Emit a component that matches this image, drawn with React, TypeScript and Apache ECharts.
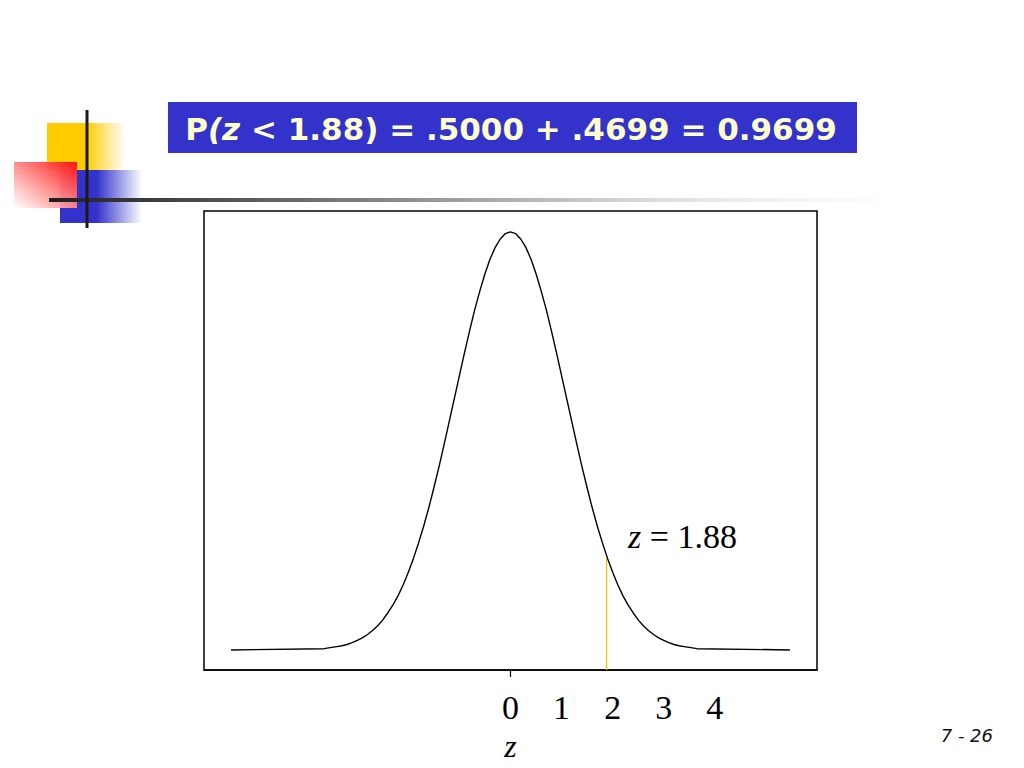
import React, { useEffect, useRef } from "react";
import * as echarts from "echarts";

// Normal curve (z, relative height)
const curveZ = [
  -5.47, -3.65, -3.5, -3.4, -3.3, -3.2, -3.1, -3.0, -2.9, -2.8, -2.7, -2.6, -2.5, -2.4, -2.3, -2.2, -2.1, -2.0,
  -1.9, -1.8, -1.7, -1.6, -1.5, -1.4, -1.3, -1.2, -1.1, -1.0, -0.9, -0.8, -0.7, -0.6, -0.5, -0.4, -0.3, -0.2, -0.1,
  0,
  0.1, 0.2, 0.3, 0.4, 0.5, 0.6, 0.7, 0.8, 0.9, 1.0, 1.1, 1.2, 1.3, 1.4, 1.5, 1.6, 1.7, 1.8, 1.9,
  2.0, 2.1, 2.2, 2.3, 2.4, 2.5, 2.6, 2.7, 2.8, 2.9, 3.0, 3.1, 3.2, 3.3, 3.4, 3.5, 3.65, 5.47,
];
const curveH = [
  0, 0.003, 0.006, 0.008, 0.01, 0.013, 0.0175, 0.023, 0.029, 0.037, 0.0465, 0.058, 0.072, 0.089, 0.108, 0.13, 0.156, 0.186,
  0.219, 0.256, 0.296, 0.34, 0.388, 0.438, 0.491, 0.546, 0.601, 0.656, 0.711, 0.764, 0.814, 0.859, 0.9, 0.935, 0.963, 0.983, 0.996,
  1.0,
  0.996, 0.983, 0.963, 0.935, 0.9, 0.859, 0.814, 0.764, 0.711, 0.656, 0.601, 0.546, 0.491, 0.438, 0.388, 0.34, 0.296, 0.256, 0.219,
  0.186, 0.156, 0.13, 0.108, 0.089, 0.072, 0.058, 0.0465, 0.037, 0.029, 0.023, 0.0175, 0.013, 0.01, 0.008, 0.006, 0.003, 0,
];
const zCut = 1.88;
const zCutHeight = 0.22;
const tickLabels = [0, 1, 2, 3, 4];
const titleText = "P{i|(z} < 1.88) = .5000 + .4699 = 0.9699";
const cutLabel = "{i|z} = 1.88";
const pageLabel = "7 - 26";

const X_MIN = -6;
const X_MAX = 6;
const Y_MIN = -0.048;
const Y_MAX = 1.05;

export default function App() {
  const ref = useRef<HTMLDivElement>(null);
  useEffect(() => {
    document.body.style.margin = "0";
    const chart = echarts.init(ref.current!, null, { renderer: "svg" });
    const curveData = curveZ.map((z, i) => [z, curveH[i]]);
    chart.setOption({
      animation: false,
      backgroundColor: "#ffffff",
      grid: {
        left: 204,
        top: 211,
        width: 613,
        height: 459,
        show: true,
        borderColor: "#000",
        borderWidth: 1.5,
        backgroundColor: "transparent",
      },
      xAxis: {
        type: "value",
        min: X_MIN,
        max: X_MAX,
        interval: 1,
        splitLine: { show: false },
        axisLine: { show: true, onZero: false, lineStyle: { color: "#000", width: 1.5 } },
        axisTick: { show: true, customValues: [0], length: 7, lineStyle: { color: "#000", width: 1.2 } },
        axisLabel: {
          customValues: tickLabels,
          margin: 20,
          fontFamily: "Liberation Serif",
          fontSize: 34,
          color: "#000",
        },
        name: "z",
        nameLocation: "middle",
        nameGap: 60,
        nameTextStyle: {
          fontFamily: "Liberation Serif",
          fontStyle: "italic",
          fontSize: 32,
          color: "#000",
        },
      },
      yAxis: {
        type: "value",
        min: Y_MIN,
        max: Y_MAX,
        show: false,
      },
      series: [
        {
          type: "line",
          data: [
            [zCut, Y_MIN],
            [zCut, zCutHeight],
          ],
          symbol: "none",
          lineStyle: { color: "#F5C400", width: 1.3 },
          z: 1,
        },
        {
          type: "line",
          data: curveData,
          symbol: "none",
          smooth: false,
          lineStyle: { color: "#000", width: 1.4 },
          z: 2,
        },
      ],
      graphic: [
        // Decorative squares (top-left)
        {
          type: "rect",
          shape: { x: 47, y: 123, width: 78, height: 47 },
          style: {
            fill: new echarts.graphic.LinearGradient(0, 0, 1, 0, [
              { offset: 0, color: "#FFCC00" },
              { offset: 0.5, color: "#FFCC00" },
              { offset: 1, color: "rgba(255,204,0,0)" },
            ]),
          },
          z: 10,
        },
        {
          type: "rect",
          shape: { x: 60, y: 170, width: 82, height: 53 },
          style: {
            fill: new echarts.graphic.LinearGradient(0, 0, 1, 0, [
              { offset: 0, color: "#3333CC" },
              { offset: 0.45, color: "#3333CC" },
              { offset: 1, color: "rgba(51,51,204,0)" },
            ]),
          },
          z: 11,
        },
        {
          type: "rect",
          shape: { x: 14, y: 162, width: 63, height: 46 },
          style: {
            fill: new echarts.graphic.LinearGradient(1, 0, 0, 1, [
              { offset: 0, color: "#FF1010" },
              { offset: 1, color: "rgba(255,255,255,0.9)" },
            ]),
          },
          z: 12,
        },
        {
          type: "rect",
          shape: { x: 49, y: 198, width: 912, height: 4 },
          style: {
            fill: new echarts.graphic.LinearGradient(0, 0, 1, 0, [
              { offset: 0, color: "#1e1e1e" },
              { offset: 0.2, color: "#555555" },
              { offset: 0.6, color: "#cccccc" },
              { offset: 1, color: "rgba(255,255,255,0)" },
            ]),
          },
          z: 13,
        },
        {
          type: "rect",
          shape: { x: 85.5, y: 110, width: 3, height: 118 },
          style: { fill: "#1a1a1a" },
          z: 14,
        },
        // Title bar
        {
          type: "rect",
          shape: { x: 168, y: 102, width: 689, height: 51 },
          style: { fill: "#3333CC" },
          z: 15,
        },
        {
          type: "text",
          x: 511,
          y: 129,
          z: 16,
          style: {
            text: titleText,
            align: "center",
            verticalAlign: "middle",
            fill: "#FFFFCC",
            font: "bold 31px 'DejaVu Sans'",
            rich: {
              i: {
                fill: "#FFFFCC",
                fontStyle: "italic",
                fontWeight: "bold",
                fontFamily: "DejaVu Sans",
                fontSize: 31,
              },
            },
          },
        },
        // Cut-off label
        {
          type: "text",
          x: 628,
          y: 536,
          z: 16,
          style: {
            text: cutLabel,
            align: "left",
            verticalAlign: "middle",
            fill: "#000",
            font: "34px 'Liberation Serif'",
            rich: {
              i: {
                fill: "#000",
                fontStyle: "italic",
                fontFamily: "Liberation Serif",
                fontSize: 34,
              },
            },
          },
        },
        // Page number
        {
          type: "text",
          x: 993,
          y: 735,
          z: 16,
          style: {
            text: pageLabel,
            align: "right",
            verticalAlign: "middle",
            fill: "#111",
            font: "italic 18px 'DejaVu Sans'",
          },
        },
      ],
    });
    return () => chart.dispose();
  }, []);
  return <div ref={ref} style={{ position: "fixed", left: 0, top: 0, width: 1024, height: 768 }} />;
}
